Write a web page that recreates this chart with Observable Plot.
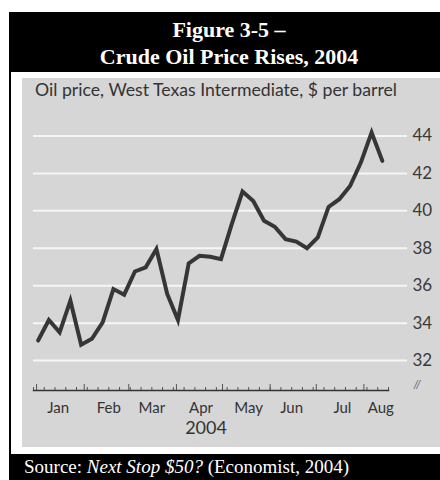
<!DOCTYPE html>
<html><head><meta charset="utf-8">
<script src="https://cdn.jsdelivr.net/npm/d3@7"></script>
<script src="https://cdn.jsdelivr.net/npm/@observablehq/plot@0.6"></script>
<style>
html,body{margin:0;padding:0;width:440px;height:480px;overflow:hidden;background:#fff;}
#frame{position:absolute;left:9px;top:12px;width:431px;height:468px;background:#000;}
#title{position:absolute;left:0;top:16px;width:458px;text-align:center;color:#fff;font:bold 22px/27px "Liberation Serif","Times New Roman",serif;}
#panel{position:absolute;left:11px;top:72px;width:429px;height:382px;background:#fff;}
#grey{position:absolute;left:22px;top:78px;width:418px;height:369px;background:#d6d6d6;}
#sub{position:absolute;left:13px;top:1.5px;font:18px/18px Lato,sans-serif;color:#333;white-space:nowrap;transform-origin:0 0;}
#chart{position:absolute;left:0;top:0;}
#source{position:absolute;left:24px;top:457px;color:#fff;font:19px/19px "Liberation Serif","Times New Roman",serif;white-space:nowrap;}
</style>
</head>
<body>
<div id="frame"></div>
<div id="title">Figure 3-5 –<br>Crude Oil Price Rises, 2004</div>
<div id="panel"></div>
<div id="grey"><div id="chart"></div><div id="sub">Oil price, West Texas Intermediate, $ per barrel</div></div>
<div id="source">Source: <i>Next Stop $50?</i> (Economist, 2004)</div>
<script>
// ---- data (weekly WTI price) ----
const weekDates = ["2004-01-02","2004-01-09","2004-01-16","2004-01-23","2004-01-30",
  "2004-02-06","2004-02-13","2004-02-20","2004-02-27",
  "2004-03-05","2004-03-12","2004-03-19","2004-03-26",
  "2004-04-02","2004-04-09","2004-04-16","2004-04-23","2004-04-30",
  "2004-05-07","2004-05-14","2004-05-21","2004-05-28",
  "2004-06-04","2004-06-11","2004-06-18","2004-06-25",
  "2004-07-02","2004-07-09","2004-07-16","2004-07-23","2004-07-30",
  "2004-08-06","2004-08-13"];
const prices = [33.07,34.17,33.51,35.20,32.85,33.16,34.04,35.82,35.52,36.76,36.98,37.96,35.56,34.17,
  37.19,37.60,37.55,37.42,39.29,41.03,40.53,39.47,39.15,38.49,38.36,38.00,38.58,40.21,40.62,41.33,
  42.58,44.18,42.67];
const yTicks = [32,34,36,38,40,42,44];
const monthLabels = ["Jan","Feb","Mar","Apr","May","Jun","Jul","Aug"];
const monthLabelDates = ["2004-01-15","2004-02-17","2004-03-16","2004-04-17","2004-05-18","2004-06-15","2004-07-18","2004-08-12"];
const yearLabel = "2004";
const xStart = "2003-12-30", xEnd = "2004-08-17";
const yBase = 30.4;

const data = weekDates.map((d,i)=>({date:new Date(d), price:prices[i]}));
const x0 = new Date(xStart), x1 = new Date(xEnd);
const weekTicks = d3.utcTuesday.range(x0, d3.utcDay.offset(x1,1));
const monthTicks = d3.utcMonth.range(x0, x1);

const W=418, H=369, mL=11, mR=52, mT=57.5, mB=57;
const frameH = H - mT - mB;

const plot = Plot.plot({
  width: W, height: H,
  marginLeft: mL, marginRight: mR, marginTop: mT, marginBottom: mB,
  style: {background:"transparent", fontFamily:"Lato, sans-serif", color:"#333", overflow:"visible"},
  x: {type:"utc", domain:[x0,x1], axis:null},
  y: {domain:[yBase,44], axis:null},
  marks: [
    Plot.ruleY(yTicks, {y:d=>d, stroke:"#f6f6f6", strokeWidth:2, insetRight:-19}),
    Plot.tickX(weekTicks, {x:d=>d, stroke:"#555", strokeWidth:1, insetTop:frameH-3}),
    Plot.tickX(monthTicks, {x:d=>d, stroke:"#555", strokeWidth:1, insetTop:frameH-6}),
    Plot.frame({anchor:"bottom", stroke:"#333", strokeWidth:1.5}),
    Plot.line(data, {x:"date", y:"price", stroke:"#363636", strokeWidth:4, strokeLinejoin:"miter", strokeMiterlimit:4}),
    Plot.axisY(yTicks, {anchor:"right", label:null, tickSize:0, tickPadding:24, fontSize:17, fill:"#3a3a3a"}),
    Plot.text(monthLabels, {x:monthLabelDates.map(d=>new Date(d)), text:monthLabels, frameAnchor:"bottom", dy:22, fontSize:15, fill:"#333"}),
    Plot.text([yearLabel], {text:d=>d, frameAnchor:"bottom", dy:43, dx:-5, fontSize:18, fill:"#333"}),
    Plot.text(["//"], {text:d=>d, frameAnchor:"bottom-right", dx:32, dy:-3, fontSize:11, fontStyle:"italic", fill:"#555"})
  ]
});
document.getElementById("chart").appendChild(plot);

const sub = document.getElementById("sub");
const w = sub.getBoundingClientRect().width;
sub.style.transform = `scaleX(${362/w})`;
</script>
</body></html>
